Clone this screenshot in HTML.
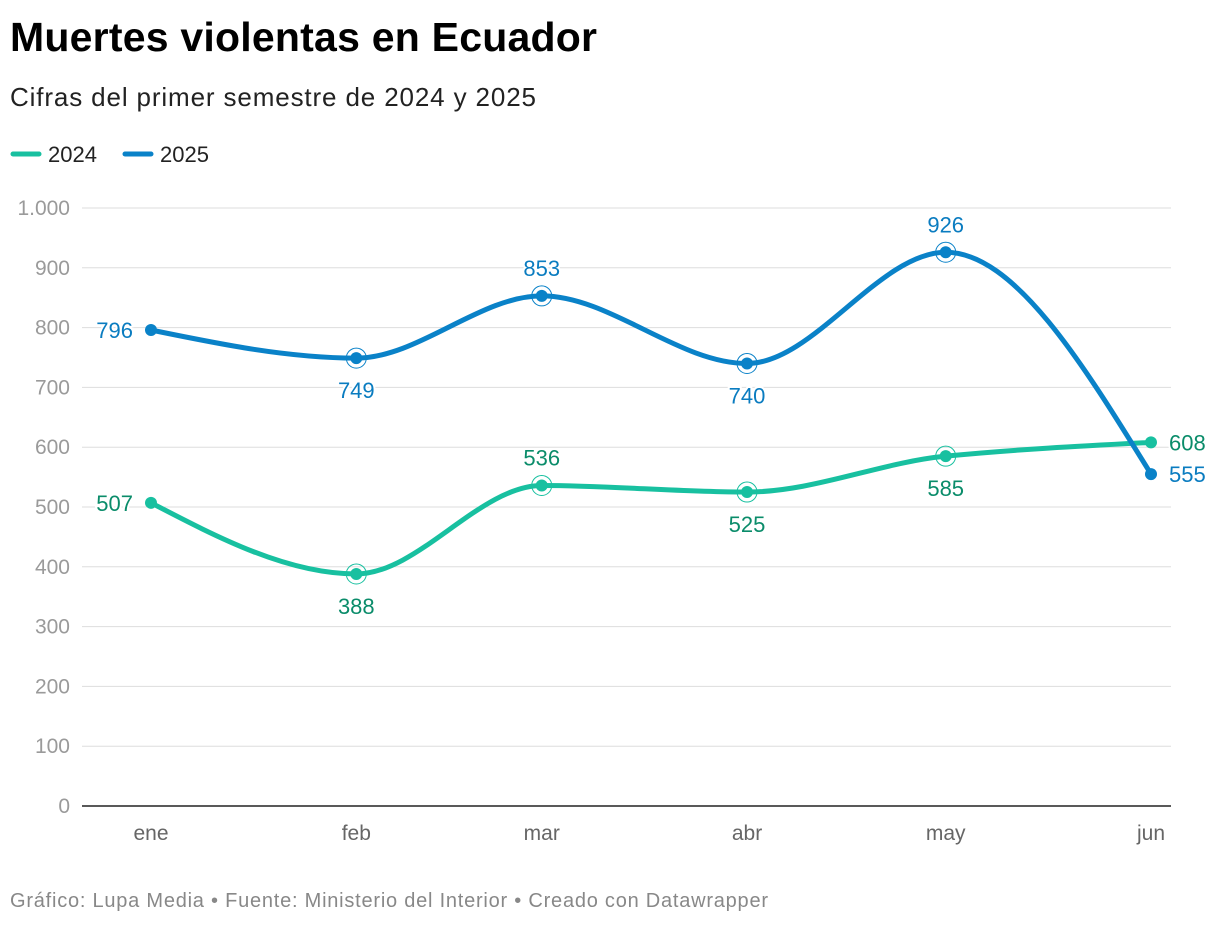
<!DOCTYPE html>
<html><head><meta charset="utf-8">
<style>
body{margin:0;background:#fff;width:1220px;height:924px;overflow:hidden;font-family:"Liberation Sans",sans-serif;}
</style></head><body>
<svg id="chart" width="1220" height="924" xmlns="http://www.w3.org/2000/svg" font-family="Liberation Sans, sans-serif">
<text x="10" y="51" font-size="41" font-weight="bold" fill="#000" textLength="587">Muertes violentas en Ecuador</text>
<text x="10" y="106" font-size="26" fill="#222" textLength="526">Cifras del primer semestre de 2024 y 2025</text>
<g>
<g><line x1="13" y1="154" x2="39" y2="154" stroke="#18c0a0" stroke-width="5" stroke-linecap="round"/><text x="48" y="162" font-size="22" fill="#222">2024</text></g>
<g><line x1="125" y1="154" x2="151" y2="154" stroke="#0a82c8" stroke-width="5" stroke-linecap="round"/><text x="160" y="162" font-size="22" fill="#222">2025</text></g>
</g>
<g id="grid"></g><g id="lines"></g><g id="marks"></g>
<text x="10" y="907" font-size="20" fill="#888" textLength="758">Gráfico: Lupa Media • Fuente: Ministerio del Interior • Creado con Datawrapper</text>
</svg>
<script>
const months=["ene","feb","mar","abr","may","jun"];
const monthDays=[0,31,59,90,120,151];
const values2024=[507,388,536,525,585,608];
const values2025=[796,749,853,740,926,555];
const yTicks=[0,100,200,300,400,500,600,700,800,900,1000];
const yTickLabels=["0","100","200","300","400","500","600","700","800","900","1.000"];
const labelPos2024=["left","below","above","below","below","right"];
const labelPos2025=["left","below","above","below","above","right"];
const NS="http://www.w3.org/2000/svg";
const x=d=>151+d*(1000/151);
const y=v=>806-v*0.598;
function el(t,a,p){const e=document.createElementNS(NS,t);for(const k in a)e.setAttribute(k,a[k]);p.appendChild(e);return e;}
const grid=document.getElementById('grid');
yTicks.forEach((t,i)=>{
 const l=el('line',{x1:82,x2:1171,y1:y(t),y2:y(t),stroke:t===0?'#222':'#ddd','stroke-width':t===0?1.5:1},grid);
 
 
 const tx=el('text',{x:70,y:y(t)+7,'text-anchor':'end','font-size':21,fill:'#9a9a9a'},grid);
 tx.textContent=yTickLabels[i];
 
 
});
months.forEach((m,i)=>{
 const tx=el('text',{x:x(monthDays[i]),y:840,'text-anchor':'middle','font-size':21,fill:'#666'},grid);
 tx.textContent=m;
 
 
});
function monotone(px,py){
 const n=px.length,d=[],m=[];
 for(let i=0;i<n-1;i++)d.push((py[i+1]-py[i])/(px[i+1]-px[i]));
 for(let i=1;i<n-1;i++){ if(d[i-1]*d[i]<=0)m[i]=0; else {const h0=px[i]-px[i-1],h1=px[i+1]-px[i];m[i]=3*(h0+h1)/((2*h1+h0)/d[i-1]+(h1+2*h0)/d[i]);}}
 m[0]=(3*d[0]-m[1])/2;m[n-1]=(3*d[n-2]-m[n-2])/2;
 let s='M'+px[0]+','+py[0];
 for(let i=0;i<n-1;i++){const h=(px[i+1]-px[i])/3;s+=` C${px[i]+h},${py[i]+m[i]*h} ${px[i+1]-h},${py[i+1]-m[i+1]*h} ${px[i+1]},${py[i+1]}`;}
 return s;
}
function series(vals,color,txtColor,pos,name){
 const px=monthDays.map(x),py=vals.map(y);
 const p=el('path',{d:monotone(px,py),fill:'none',stroke:color,'stroke-width':5,'stroke-linecap':'round'},document.getElementById('lines'));
 
 
 const g=document.getElementById('marks');
 vals.forEach((v,i)=>{
  if(i>0&&i<vals.length-1){const r=el('circle',{cx:px[i],cy:py[i],r:10,fill:'none',stroke:color,'stroke-width':1},g);
   }
  const c=el('circle',{cx:px[i],cy:py[i],r:6,fill:color},g);
  
  
  let tx=px[i],ty=py[i],an='middle';
  if(pos[i]==='left'){tx-=18;ty+=8;an='end';}
  else if(pos[i]==='right'){tx+=18;ty+=8;an='start';}
  else if(pos[i]==='above'){ty-=20;}
  else {ty+=40;}
  const t=el('text',{x:tx,y:ty,'text-anchor':an,'font-size':22,fill:txtColor,stroke:'#fff','stroke-width':4,'paint-order':'stroke'},g);
  t.textContent=v;
  
  
 });
}
series(values2024,'#18c0a0','#0a8c6a',labelPos2024,'2024');
series(values2025,'#0a82c8','#0a7cc0',labelPos2025,'2025');
</script>
</body></html>
